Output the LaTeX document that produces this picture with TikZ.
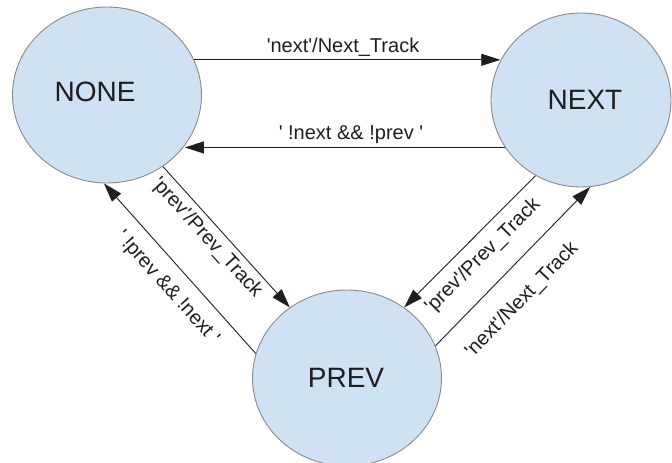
\documentclass[tikz,border=0pt]{standalone}
\usepackage{fontspec}
\newfontfamily\labfont{Liberation Sans}
\usetikzlibrary{shapes.geometric,arrows.meta}
\definecolor{statefill}{HTML}{CFE2F3}
\definecolor{stateline}{HTML}{8A8A8A}
\definecolor{ink}{HTML}{1E1E1E}
\tikzset{
  statebox/.style={ellipse, draw=stateline, line width=0.9pt, fill=statefill,
    inner sep=0pt, minimum width=189pt, minimum height=176pt},
  statename/.style={font=\labfont\fontsize{28}{30}\selectfont, text=ink, inner sep=0pt},
  translabel/.style={font=\labfont\fontsize{20}{22}\selectfont, text=ink, inner sep=0pt},
  transarrow/.style={draw=ink, line width=0.9pt, -{Triangle[length=19pt,width=12pt]}}
}
\begin{document}
\begin{tikzpicture}[x=1pt,y=-1pt]
  \useasboundingbox (0,0) rectangle (672,463);

  % states
  \node[statebox] (none) at (107,95) {};
  \node[statebox, minimum width=180pt, minimum height=174pt] (next) at (581,100) {};
  \node[statebox] (prev) at (347,378) {};
  \node[statename] (noneName) at (95,92) {NONE};
  \node[statename] (nextName) at (585,100) {NEXT};
  \node[statename] (prevName) at (346,378) {PREV};

  % transitions between NONE and NEXT
  \draw[transarrow] (none.22) -- (next.154 |- none.22);
  \draw[transarrow] (next.212) -- (none.-33 |- next.212);
  \node[translabel, anchor=base] (lNoneNext) at (343,52) {'next'/Next\_Track};
  \node[translabel, anchor=base] (lNextNone) at (351,139) {' !next \&\& !prev '};

  % transitions between NONE and PREV
  \draw[transarrow] (none.-52) -- (prev.129);
  \draw[transarrow] (prev.165) -- (none.-92);
  \node[translabel, rotate=-47.6] (lNonePrev) at (207,238) {'prev'/Prev\_Track};
  \node[translabel, rotate=-48] (lPrevNone) at (167,288) {' !prev \&\& !next '};

  % transitions between NEXT and PREV
  \draw[transarrow] (next.-121) -- (prev.51);
  \draw[transarrow] (prev.20) -- (next.-84);
  \node[translabel, rotate=45] (lNextPrev) at (483,256) {'prev'/Prev\_Track};
  \node[translabel, rotate=46] (lPrevNext) at (522,300) {'next'/Next\_Track};
\end{tikzpicture}
\end{document}
